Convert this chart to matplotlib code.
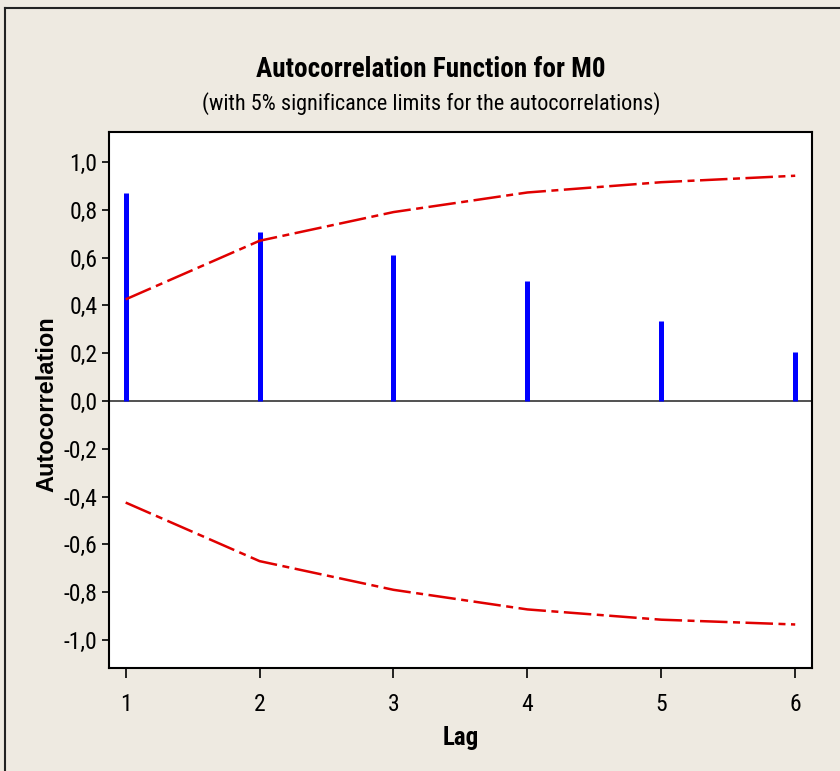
import matplotlib
matplotlib.use('Agg')
import matplotlib.pyplot as plt
from matplotlib.lines import Line2D

# data
lags = [1, 2, 3, 4, 5, 6]
acf = [0.87, 0.705, 0.61, 0.50, 0.335, 0.205]
upper = [0.425, 0.67, 0.79, 0.872, 0.915, 0.942]
lower = [-0.425, -0.67, -0.79, -0.872, -0.915, -0.935]
yticks = [1.0, 0.8, 0.6, 0.4, 0.2, 0.0, -0.2, -0.4, -0.6, -0.8, -1.0]
ytick_labels = ['1,0', '0,8', '0,6', '0,4', '0,2', '0,0', '-0,2', '-0,4', '-0,6', '-0,8', '-1,0']

narrow = ['Roboto Condensed', 'Liberation Sans', 'DejaVu Sans']
bg = '#eeeae1'

fig = plt.figure(figsize=(8.4, 7.71), dpi=100, facecolor=bg)
ax = fig.add_axes([0.130, 0.1336, 0.8363, 0.6952])
ax.set_facecolor('white')

ax.vlines(lags, 0, acf, color='#0000ff', linewidth=3.6)
ax.axhline(0, color='#333333', linewidth=1.2, zorder=1)
ls = (0, (11, 2.2, 2.8, 2.2))
ax.plot(lags, upper, color='#e00000', linewidth=1.8, linestyle=ls)
ax.plot(lags, lower, color='#e00000', linewidth=1.8, linestyle=ls)

ax.set_xlim(0.877, 6.123)
ax.set_ylim(-1.117, 1.125)
ax.set_xticks(lags)
ax.set_xticklabels([str(l) for l in lags], family=narrow, fontsize=17)
ax.set_yticks(yticks)
ax.set_yticklabels(ytick_labels, family=narrow, fontsize=17)
ax.tick_params(axis='x', length=7.5, width=1.2, pad=10.5, direction='out')
ax.tick_params(axis='y', length=5, width=1.2, pad=3.5, direction='out')
for s in ax.spines.values():
    s.set_linewidth(1.5)

fig.text(0.548, 0.034, 'Lag', ha='center', va='baseline',
         family=narrow, fontweight='bold', fontsize=18)
fig.text(0.056, 0.476, 'Autocorrelation', rotation=90, ha='center', va='center',
         family=['Liberation Sans', 'DejaVu Sans'], fontweight='bold', fontsize=17)

fig.text(0.513, 0.9, 'Autocorrelation Function for M0', ha='center', va='baseline',
         family=narrow, fontweight='bold', fontsize=19.5)
fig.text(0.513, 0.857, '(with 5% significance limits for the autocorrelations)', ha='center',
         va='baseline', family=narrow, fontsize=16)

# frame lines at left and top of the picture
fig.add_artist(Line2D([0.006, 0.006], [0.0, 0.99], transform=fig.transFigure, color='#222222', linewidth=1.5))
fig.add_artist(Line2D([0.006, 1.0], [0.99, 0.99], transform=fig.transFigure, color='#222222', linewidth=1.5))

fig.savefig('out.png', dpi=100, facecolor=bg)
